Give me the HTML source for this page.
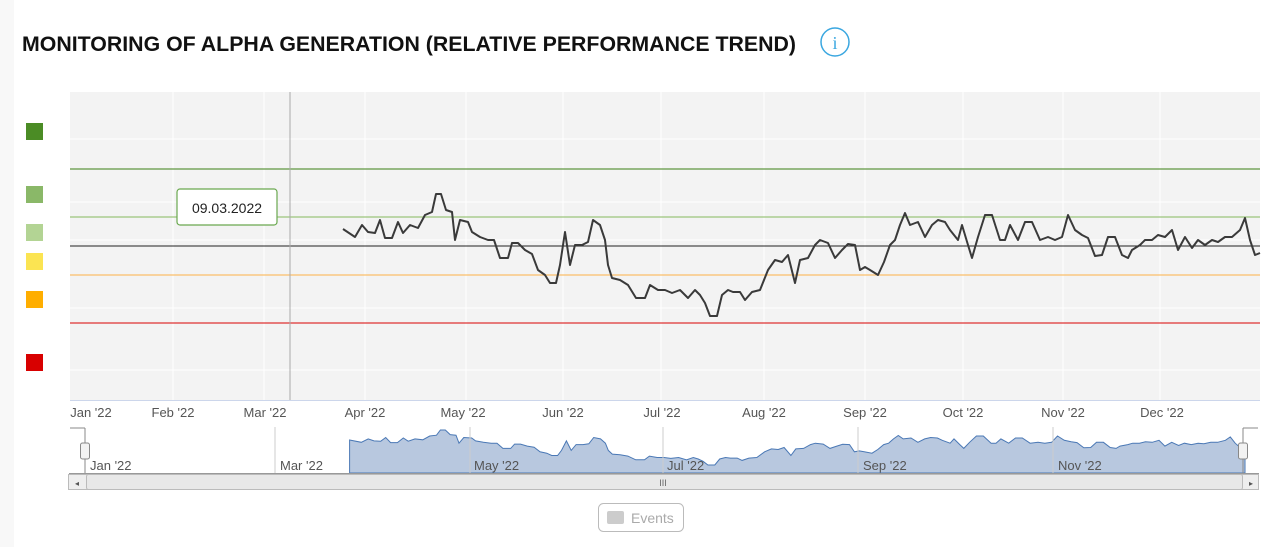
<!DOCTYPE html>
<html><head><meta charset="utf-8"><style>
body{margin:0;background:#fff;width:1280px;height:547px;overflow:hidden;font-family:"Liberation Sans",sans-serif}
</style></head><body>
<svg id="s" width="1280" height="547" xmlns="http://www.w3.org/2000/svg" font-family="Liberation Sans, sans-serif">
<rect x="0" y="0" width="14" height="547" fill="#f8f8f8"/>
<text x="22" y="51" font-size="21" font-weight="bold" fill="#111" textLength="774" lengthAdjust="spacingAndGlyphs">MONITORING OF ALPHA GENERATION (RELATIVE PERFORMANCE TREND)</text>
<circle cx="835" cy="42" r="14" fill="none" stroke="#3aa7e0" stroke-width="1.5"/>
<text x="835" y="49" font-size="18" fill="#3aa7e0" text-anchor="middle" font-family="Liberation Serif, serif">i</text>
<rect x="70" y="92" width="1190" height="308" fill="#f3f3f3"/>
<g stroke="#fff" stroke-width="1">
<line x1="70" x2="1260" y1="139" y2="139"/><line x1="70" x2="1260" y1="202" y2="202"/><line x1="70" x2="1260" y1="240" y2="240"/><line x1="70" x2="1260" y1="308" y2="308"/><line x1="70" x2="1260" y1="370" y2="370"/>
<line x1="173" x2="173" y1="92" y2="400"/><line x1="264" x2="264" y1="92" y2="400"/><line x1="365" x2="365" y1="92" y2="400"/><line x1="466" x2="466" y1="92" y2="400"/><line x1="563" x2="563" y1="92" y2="400"/><line x1="661" x2="661" y1="92" y2="400"/><line x1="764" x2="764" y1="92" y2="400"/><line x1="865" x2="865" y1="92" y2="400"/><line x1="963" x2="963" y1="92" y2="400"/><line x1="1063" x2="1063" y1="92" y2="400"/><line x1="1160" x2="1160" y1="92" y2="400"/>
</g>
<line x1="70" x2="1260" y1="169" y2="169" stroke="#5f9640" stroke-width="1.2"/>
<line x1="70" x2="1260" y1="217" y2="217" stroke="#9cc47c" stroke-width="1.2"/>
<line x1="70" x2="1260" y1="246" y2="246" stroke="#222" stroke-width="1"/>
<line x1="70" x2="1260" y1="275" y2="275" stroke="#fbbf6a" stroke-width="1.2"/>
<line x1="70" x2="1260" y1="323" y2="323" stroke="#d33" stroke-width="1.2"/>
<line x1="290" x2="290" y1="92" y2="400" stroke="#aaa" stroke-width="1"/>
<line x1="70" x2="1260" y1="400.5" y2="400.5" stroke="#ccd6eb"/>
<rect x="26" y="123" width="17" height="17" fill="#4b8c25"/>
<rect x="26" y="186" width="17" height="17" fill="#8ab868"/>
<rect x="26" y="224" width="17" height="17" fill="#b3d494"/>
<rect x="26" y="253" width="17" height="17" fill="#fbe452"/>
<rect x="26" y="291" width="17" height="17" fill="#ffae00"/>
<rect x="26" y="354" width="17" height="17" fill="#d80000"/>
<polyline id="ser" fill="none" stroke="#3a3a3a" stroke-width="2" stroke-linejoin="round"/>
<g font-size="13" fill="#555" text-anchor="middle">
<text x="91" y="417">Jan '22</text><text x="173" y="417">Feb '22</text><text x="265" y="417">Mar '22</text><text x="365" y="417">Apr '22</text><text x="463" y="417">May '22</text><text x="563" y="417">Jun '22</text><text x="662" y="417">Jul '22</text><text x="764" y="417">Aug '22</text><text x="865" y="417">Sep '22</text><text x="963" y="417">Oct '22</text><text x="1063" y="417">Nov '22</text><text x="1162" y="417">Dec '22</text>
</g>
<rect x="177" y="189" width="100" height="36" rx="3" fill="#fff" stroke="#6aa84f" stroke-width="1.2"/>
<text x="227" y="213" font-size="14" text-anchor="middle" fill="#222">09.03.2022</text>
<path id="nav" fill="#b8c8df" stroke="#4a78b5" stroke-width="1"/>
<g stroke="#ccc"><line x1="275" x2="275" y1="427" y2="473"/><line x1="470" x2="470" y1="427" y2="473"/><line x1="663" x2="663" y1="427" y2="473"/><line x1="858" x2="858" y1="427" y2="473"/><line x1="1053" x2="1053" y1="427" y2="473"/></g>
<g font-size="13" fill="#555">
<text x="90" y="470">Jan '22</text><text x="280" y="470">Mar '22</text><text x="474" y="470">May '22</text><text x="667" y="470">Jul '22</text><text x="863" y="470">Sep '22</text><text x="1058" y="470">Nov '22</text>
</g>
<line x1="70" x2="85" y1="428" y2="428" stroke="#888"/><line x1="85" x2="85" y1="428" y2="474" stroke="#888"/>
<line x1="1243" x2="1258" y1="428" y2="428" stroke="#888"/><line x1="1243" x2="1243" y1="428" y2="474" stroke="#888"/>
<rect x="80.5" y="443" width="9" height="16" rx="2" fill="#f2f2f2" stroke="#888"/>
<rect x="1238.5" y="443" width="9" height="16" rx="2" fill="#f2f2f2" stroke="#888"/>
<line x1="69" x2="1259" y1="473.5" y2="473.5" stroke="#999"/>
<rect x="68.5" y="474.5" width="1190" height="15" fill="#eee" stroke="#bbb"/>
<rect x="86.5" y="474.5" width="1156" height="15" rx="2" fill="#e8e8e8" stroke="#bbb"/>
<text x="663" y="486" font-size="9" fill="#666" text-anchor="middle">III</text>
<text x="77" y="486" font-size="8" fill="#555" text-anchor="middle">◂</text>
<text x="1251" y="486" font-size="8" fill="#555" text-anchor="middle">▸</text>
<rect x="598.5" y="503.5" width="85" height="28" rx="5" fill="#fff" stroke="#bbb"/>
<rect x="607" y="511" width="17" height="13" rx="2" fill="#ccc"/>
<text x="631" y="523" font-size="14" fill="#aaa">Events</text>
</svg>
<script>
var p=[343,229,355,237,362,225,368,232,375,233,380,220,385,238,392,238,398,222,403,233,410,225,418,228,425,215,432,212,436,194,441,194,446,210,452,212,455,240,460,220,468,222,472,232,480,237,488,240,494,240,500,258,508,258,512,243,518,243,525,250,532,254,538,270,545,275,550,283,556,283,560,265,565,232,570,265,575,245,582,245,588,242,593,220,600,225,605,240,608,265,612,278,620,280,628,285,636,298,645,298,650,285,658,290,665,290,672,293,680,290,688,298,695,290,700,295,705,303,710,316,717,316,722,295,728,290,733,292,740,292,745,300,752,292,760,290,768,270,775,260,782,262,788,255,795,283,800,260,808,258,815,245,820,240,828,243,835,258,842,250,848,244,855,245,860,270,865,267,870,270,878,275,884,262,890,245,895,240,900,225,905,213,910,225,918,222,925,237,932,225,938,220,945,222,950,230,958,240,962,225,968,245,972,258,978,237,985,215,992,215,1000,240,1005,240,1010,225,1018,240,1025,222,1032,222,1040,240,1048,237,1055,240,1062,237,1068,215,1075,230,1082,235,1088,238,1095,256,1102,255,1108,237,1115,237,1122,255,1128,258,1132,250,1140,245,1145,240,1152,240,1158,235,1165,237,1172,230,1178,250,1185,237,1192,248,1198,240,1205,245,1212,240,1218,242,1225,237,1232,237,1240,230,1245,218,1250,240,1255,255,1260,253];
var a=[],d="";
for(var i=0;i<p.length;i+=2){a.push(p[i]+","+p[i+1]);var nx=85+(p[i]-72)*1158/1186,ny=430+(p[i+1]-194)*35/122;d+=(i?"L":"M")+nx.toFixed(1)+","+ny.toFixed(1);}
document.getElementById("ser").setAttribute("points",a.join(" "));
var lx=85+(1260-72)*1158/1186;
d+="L"+lx.toFixed(1)+",473L"+(85+(343-72)*1158/1186).toFixed(1)+",473Z";
document.getElementById("nav").setAttribute("d",d);
</script>
</body></html>
